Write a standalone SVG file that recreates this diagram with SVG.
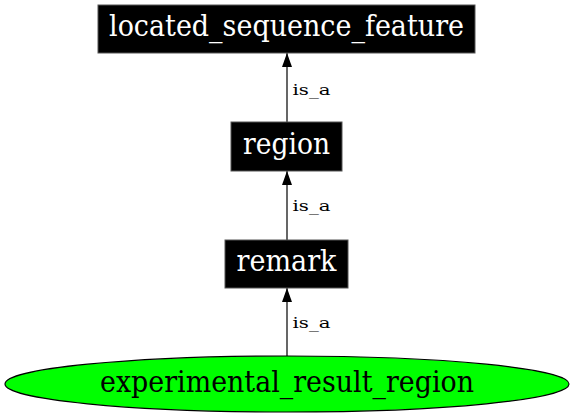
<svg xmlns="http://www.w3.org/2000/svg" width="573" height="419" viewBox="0 0 573 419">
<style>
.box{fill:#000;stroke:#555;stroke-width:1}
.nt{font-family:"DejaVu Serif",serif;font-size:29px;text-anchor:middle;fill:#fff}
.et{font-family:"DejaVu Serif",serif;font-size:29px;text-anchor:middle;fill:#000}
.lbl{font-family:"DejaVu Serif",serif;font-size:14.5px;fill:#000}
.edge{stroke:#000;stroke-width:1.2;fill:none}
</style>
<defs>
<marker id="arr" viewBox="0 0 14 10" refX="14" refY="5" markerWidth="14" markerHeight="10" markerUnits="userSpaceOnUse" orient="auto">
<path d="M0,0 L14,5 L0,10 Z" fill="#000"/>
</marker>
</defs>
<rect width="573" height="419" fill="#fff"/>
<g id="connectors">
<g id="e1"><line class="edge" x1="287" y1="122" x2="287" y2="53" marker-end="url(#arr)"/><text class="lbl" x="292.5" y="94.5" textLength="38" lengthAdjust="spacingAndGlyphs">is_a</text></g>
<g id="e2"><line class="edge" x1="287" y1="240" x2="287" y2="171" marker-end="url(#arr)"/><text class="lbl" x="292.5" y="210.5" textLength="38" lengthAdjust="spacingAndGlyphs">is_a</text></g>
<g id="e3"><line class="edge" x1="287" y1="356" x2="287" y2="288" marker-end="url(#arr)"/><text class="lbl" x="292.5" y="328" textLength="38" lengthAdjust="spacingAndGlyphs">is_a</text></g>
</g>
<g id="located_sequence_feature">
<rect class="box" x="98" y="5" width="377" height="48"/>
<text class="nt" x="286.5" y="36" textLength="355" lengthAdjust="spacingAndGlyphs">located_sequence_feature</text>
</g>
<g id="region">
<rect class="box" x="231" y="122" width="111" height="49"/>
<text class="nt" x="286.5" y="153.5" textLength="87" lengthAdjust="spacingAndGlyphs">region</text>
</g>
<g id="remark">
<rect class="box" x="225" y="240" width="123" height="48"/>
<text class="nt" x="286.5" y="270.5" textLength="100" lengthAdjust="spacingAndGlyphs">remark</text>
</g>
<g id="experimental_result_region">
<ellipse cx="287" cy="384" rx="282" ry="28" fill="#00ff00" stroke="#000" stroke-width="1.2"/>
<text class="et" x="287" y="391.5" textLength="374" lengthAdjust="spacingAndGlyphs">experimental_result_region</text>
</g>
</svg>
